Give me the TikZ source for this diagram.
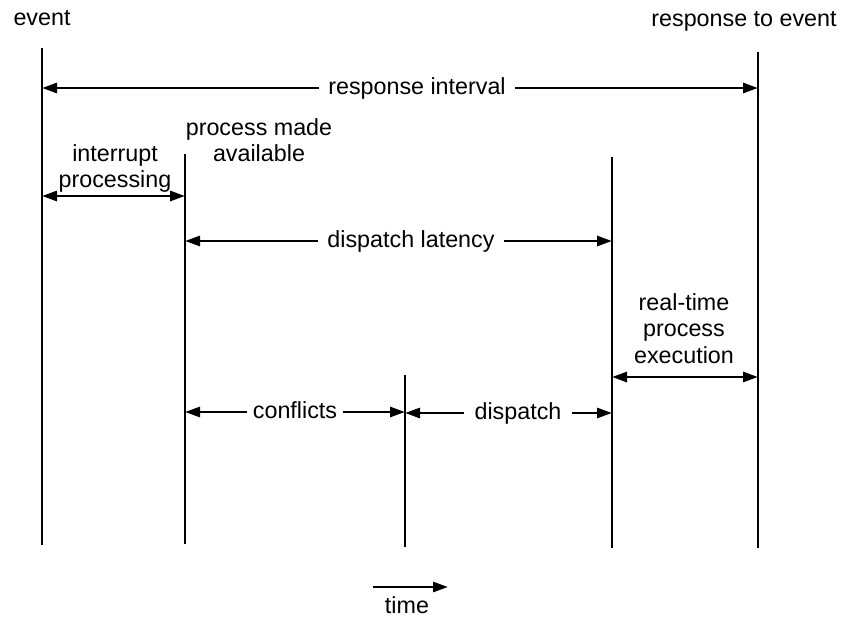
\documentclass[tikz,border=0pt]{standalone}
\usepackage{fontspec}
\setmainfont{Liberation Sans}
\usetikzlibrary{arrows.meta}
\begin{document}
\begin{tikzpicture}[x=1pt,y=-1pt,
  font=\fontsize{23.3}{26.5}\selectfont,
  vline/.style={line width=2pt},
  arr/.style={line width=2.8pt,-{Triangle[length=15pt,width=10pt]}},
  darr/.style={line width=2.8pt,{Triangle[length=15pt,width=10pt]}-{Triangle[length=15pt,width=10pt]}},
  lbl/.style={anchor=center,inner xsep=9pt,inner ysep=0pt,text height=17pt,text depth=5pt},
  ml/.style={align=center,anchor=north,inner sep=0pt}]
\useasboundingbox (0,0) rectangle (843,619);
% time lines
\coordinate (t1) at (42,48);   \coordinate (b1) at (42,545);
\coordinate (t2) at (185,154); \coordinate (b2) at (185,544);
\coordinate (t3) at (405,375); \coordinate (b3) at (405,547);
\coordinate (t4) at (612,157); \coordinate (b4) at (612,548);
\coordinate (t5) at (758,52);  \coordinate (b5) at (758,548);
\draw[vline] (t1) -- (b1);
\draw[vline] (t2) -- (b2);
\draw[vline] (t3) -- (b3);
\draw[vline] (t4) -- (b4);
\draw[vline] (t5) -- (b5);
% top labels
\node[lbl] (ev) at (42,19) {event};
\node[lbl] (re) at (744,20) {response to event};
% response interval
\node[lbl] (ri) at (417,88) {response interval};
\draw[arr] (ri.west) -- (ri.west -| t1);
\draw[arr] (ri.east) -- (ri.east -| t5);
% interrupt processing
\node[ml] (ip) at (115,144) {interrupt\\processing};
\coordinate (ia) at (115,196);
\draw[darr] (ia -| t1) -- (ia -| t2);
% process made available
\node[ml] (pm) at (259,118) {process made\\available};
% dispatch latency
\node[lbl] (dl) at (411,241) {dispatch latency};
\draw[arr] (dl.west) -- (dl.west -| t2);
\draw[arr] (dl.east) -- (dl.east -| t4);
% real-time process execution
\node[ml] (rt) at (684,293) {real-time\\process\\execution};
\coordinate (ra) at (684,377);
\draw[darr] (ra -| t4) -- (ra -| t5);
% conflicts
\node[lbl,inner xsep=6pt] (cf) at (295,412) {conflicts};
\draw[arr] (cf.west) -- (cf.west -| t2);
\draw[arr] (cf.east) -- (cf.east -| t3);
% dispatch
\node[lbl,inner xsep=10pt] (dp) at (518,413) {dispatch};
\draw[arr] (dp.west) -- (dp.west -| t3);
\draw[arr] (dp.east) -- (dp.east -| t4);
% time
\coordinate (ts) at (373,587);
\coordinate (te) at (448,587);
\draw[arr] (ts) -- (te);
\node[lbl] (tm) at (407,607) {time};
\end{tikzpicture}
\end{document}
